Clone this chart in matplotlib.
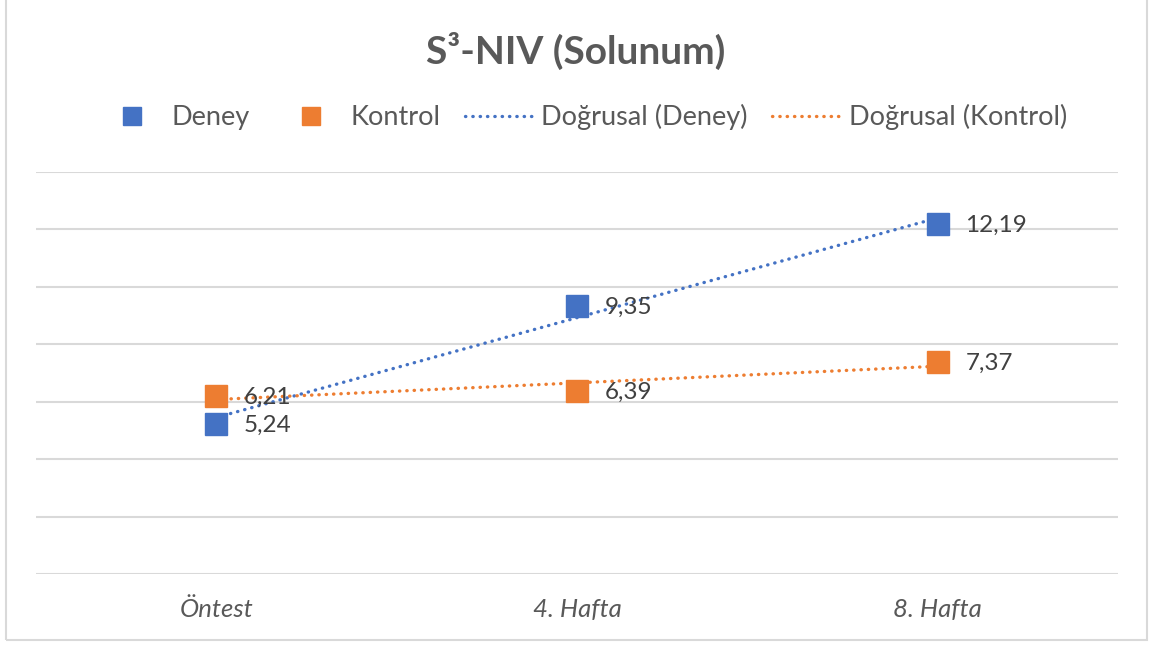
import numpy as np
import matplotlib
matplotlib.use("Agg")
import matplotlib.pyplot as plt
from matplotlib.lines import Line2D
from matplotlib.patches import Rectangle

plt.rcParams['font.family'] = ['Lato', 'DejaVu Sans']

categories = ["Öntest", "4. Hafta", "8. Hafta"]
deney = [5.24, 9.35, 12.19]
kontrol = [6.21, 6.39, 7.37]
series_names = ["Deney", "Kontrol"]
trend_names = ["Doğrusal (Deney)", "Doğrusal (Kontrol)"]
title = "S³-NIV (Solunum)"

blue = "#4472C4"
orange = "#ED7D31"
grid_c = "#D9D9D9"
text_c = "#595959"
label_c = "#404040"

fig = plt.figure(figsize=(11.52, 6.46), dpi=100)
ax = fig.add_axes([36/1152, 1-574/646, (1118-36)/1152, (574-172)/646])

x = np.arange(len(categories))
ax.set_xlim(-0.5, len(categories) - 0.5)
ax.set_ylim(0, 14)
ax.set_yticks(np.arange(0, 15, 2))
ax.yaxis.grid(True, color=grid_c, lw=1.5)
ax.set_axisbelow(True)
ax.tick_params(axis='y', left=False, labelleft=False)
ax.tick_params(axis='x', length=0, pad=17, labelsize=18.5, labelcolor=text_c)
ax.set_xticks(x)
ax.set_xticklabels(categories, fontstyle='italic')
for s in ax.spines.values():
    s.set_visible(False)

ms = 15.5
dot = dict(lw=2.4, linestyle=(0, (0.1, 2.1)), dash_capstyle='round')
for vals, col in [(deney, blue), (kontrol, orange)]:
    ax.plot(x, vals, 's', color=col, ms=ms, zorder=3)
    coef = np.polyfit(x, vals, 1)
    ax.plot(x, np.polyval(coef, x), color=col, zorder=4, **dot)
    for xi, v in zip(x, vals):
        ax.annotate(f"{v:.2f}".replace('.', ','), (xi, v), xytext=(20, -1),
                    textcoords='offset points', va='center', ha='left',
                    fontsize=17.5, color=label_c, zorder=5)

fig.text(0.5, 1-51/646, title, ha='center', va='center', fontsize=28,
         fontweight='bold', color=text_c)

handles = [
    Line2D([], [], marker='s', ls='none', color=blue, ms=12.5),
    Line2D([], [], marker='s', ls='none', color=orange, ms=12.5),
    Line2D([], [], color=blue, **dot),
    Line2D([], [], color=orange, **dot),
]
leg = fig.legend(handles, series_names + trend_names, loc='center',
                 bbox_to_anchor=(581/1152, 1-117/646), ncol=4, frameon=False,
                 fontsize=19.5, handlelength=2.7, handletextpad=0.12,
                 columnspacing=0.9, labelcolor=text_c)

fig.patches.append(Rectangle((6/1152, 1-640/646), (1147-6)/1152, 640/646 + 0.05,
                             transform=fig.transFigure, fill=False,
                             edgecolor=grid_c, lw=1.5))

fig.savefig("out.png", dpi=100, facecolor='white')
